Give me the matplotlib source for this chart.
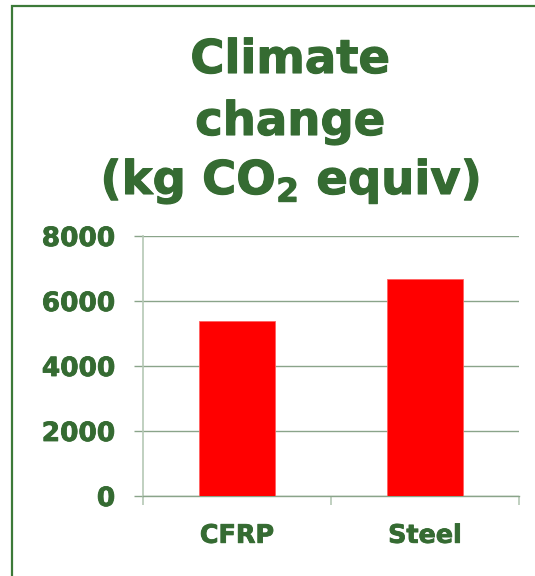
import matplotlib
matplotlib.use("Agg")
import matplotlib.pyplot as plt
import matplotlib.patheffects as pe
from matplotlib.patches import Rectangle

categories = ["CFRP", "Steel"]
values = [5380, 6690]
y_ticks = [0, 2000, 4000, 6000, 8000]
title_lines = ["Climate", "change", r"(kg CO$_\mathbf{2}$ equiv)"]

GREEN = "#356B32"
GRID = "#8AA48A"
SPINE = "#B5C8B5"
W, H = 535, 576

plt.rcParams["font.family"] = ["DejaVu Sans"]
plt.rcParams["mathtext.fontset"] = "dejavusans"

fig = plt.figure(figsize=(W / 100, H / 100), dpi=100)
fig.patch.set_facecolor("white")

# outer border (open to right and bottom)
fig.add_artist(Rectangle((12 / W, -0.1), 1.2, 1 - 6 / H + 0.1, transform=fig.transFigure,
                         fill=False, edgecolor="#3C7A38", linewidth=1.6))

ax = fig.add_axes([143 / W, 1 - 496 / H, (519 - 143) / W, (496 - 236) / H])
x = list(range(len(categories)))
ax.bar(x, values, width=0.4, color="#FF0000", edgecolor="#FF6060", linewidth=0.6, zorder=3)
ax.set_xlim(-0.5, len(categories) - 0.5)
ax.set_ylim(0, 8000)
ax.set_yticks(y_ticks)
ax.set_yticklabels([str(v) for v in y_ticks])
ax.set_xticks(x)
ax.set_xticklabels(categories)
ax.set_xticks([-0.5, 0.5, 1.5], minor=True)

ax.yaxis.grid(True, color=GRID, linewidth=1.0, zorder=0)
ax.set_axisbelow(True)
for s in ["top", "right"]:
    ax.spines[s].set_visible(False)
ax.spines["left"].set_color(SPINE)
ax.spines["left"].set_linewidth(1.2)
ax.spines["bottom"].set_color(GRID)
ax.spines["bottom"].set_linewidth(1.0)

ax.tick_params(axis="y", length=6.5, width=1.0, color=GRID, pad=13.5,
               labelsize=19, labelcolor=GREEN)
ax.tick_params(axis="x", which="major", length=0, pad=20, labelsize=18.3, labelcolor=GREEN)
ax.tick_params(axis="x", which="minor", length=6.5, width=1.2, color=SPINE)
thick = [pe.withStroke(linewidth=0.6, foreground=GREEN)]
for lab in ax.get_yticklabels() + ax.get_xticklabels():
    lab.set_fontweight("bold")
    lab.set_path_effects(thick)

baselines = [73, 135, 194]
for line, yb in zip(title_lines, baselines):
    fig.text(290 / W, 1 - yb / H, line, ha="center", va="baseline",
             fontsize=33.5, fontweight="bold", color=GREEN,
             path_effects=[pe.withStroke(linewidth=0.8, foreground=GREEN)])

fig.savefig("out.png", dpi=100, facecolor="white")
